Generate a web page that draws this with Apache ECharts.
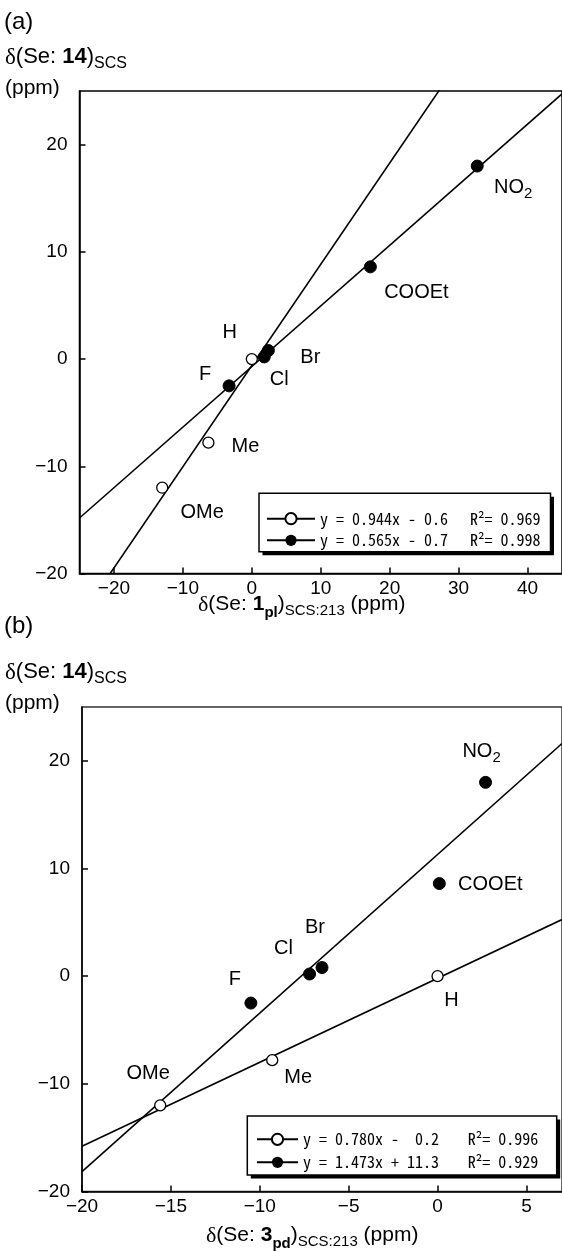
<!DOCTYPE html>
<html><head><meta charset="utf-8">
<script src="https://cdn.jsdelivr.net/npm/echarts@6/dist/echarts.min.js"></script>
<style>html,body{margin:0;padding:0;background:#fff}#c{width:562px;height:1252px}</style>
</head><body><div id="c"></div>
<script>
// ---- data ----
const namesOpen = ['H', 'Me', 'OMe'];
const namesFilled = ['F', 'Cl', 'Br', 'COOEt', 'NO2'];
const yOpen = [0.0, -7.8, -12.0];          // δ(Se: 14)SCS
const yFilled = [-2.5, 0.2, 0.8, 8.6, 18.0];
const xOpenA = [0.0, -6.3, -13.0];         // δ(Se: 1pl)SCS:213
const xFilledA = [-3.3, 1.8, 2.4, 17.2, 32.7];
const xOpenB = [0.0, -9.3, -15.6];         // δ(Se: 3pd)SCS:213
const xFilledB = [-10.5, -7.2, -6.5, 0.1, 2.7];
const slopeA = [0.944, 0.565], interceptA = [-0.6, -0.7], r2A = [0.969, 0.998];
const slopeB = [0.780, 1.473], interceptB = [-0.2, 11.3], r2B = [0.996, 0.929];
const xRangeA = [-25, 45], xRangeB = [-20, 7], yRange = [-20, 25];
const xTicksA = [-20, -10, 0, 10, 20, 30, 40];
const xTicksB = [-20, -15, -10, -5, 0, 5];
const yTicks = [-20, -10, 0, 10, 20];
// label offsets (px) – layout only
const offOpenA = [[-22, -27], [37, 4], [40, 25]];
const offFilledA = [[-24, -11], [15, 23], [42, 7], [46, 26], [36, 21]];
const offOpenB = [[14, 24], [26, 17], [-12, -32]];
const offFilledB = [[-16, -24], [-26, -26], [-7, -40], [51, 1], [-4, -31]];

const SANS = "'Liberation Sans', Arial, sans-serif";
const MONO = "'Noto Sans Mono CJK JP', 'Liberation Mono', monospace";

function fitLine(m, b, xr) { return [[xr[0], m * xr[0] + b], [xr[1], m * xr[1] + b]]; }
function eqText(m, b, w) {
  return 'y = ' + m.toFixed(3) + 'x ' + (b < 0 ? '-' : '+') + ' ' + Math.abs(b).toFixed(1).padStart(w);
}
function pts(xs, ys, names, offs) {
  return xs.map((x, i) => ({ value: [x, ys[i]], name: names[i], label: { offset: offs[i] } }));
}
const minus = v => String(v).replace('-', '\u2212');

const ptLabel = {
  show: true, position: 'inside', color: '#000',
  formatter: p => p.name === 'NO2' ? '{n|NO}{s|2}' : '{n|' + p.name + '}',
  rich: {
    n: { fontFamily: SANS, fontSize: 20, color: '#000', verticalAlign: 'top', lineHeight: 20 },
    s: { fontFamily: SANS, fontSize: 15, color: '#000', verticalAlign: 'top', lineHeight: 15, padding: [9, 0, 0, 0] }
  }
};
const openStyle = { color: '#fff', borderColor: '#000', borderWidth: 1.3, opacity: 1 };
const filledStyle = { color: '#000', borderColor: '#000', borderWidth: 1, opacity: 1 };

function axisX(grid, xr, ticks) {
  return {
    gridIndex: grid, type: 'value', min: xr[0], max: xr[1],
    axisLine: { onZero: false, lineStyle: { color: '#000', width: 1.5 } },
    axisTick: { inside: true, length: 6, customValues: ticks, lineStyle: { color: '#000', width: 1.5 } },
    axisLabel: { customValues: ticks, formatter: minus, color: '#000', fontFamily: SANS, fontSize: 19, margin: 6 },
    splitLine: { show: false }
  };
}
function axisY(grid) {
  return {
    gridIndex: grid, type: 'value', min: yRange[0], max: yRange[1],
    axisLine: { onZero: false, lineStyle: { color: '#000', width: 1.5 } },
    axisTick: { inside: true, length: 6, customValues: yTicks, lineStyle: { color: '#000', width: 1.5 } },
    axisLabel: { customValues: yTicks, formatter: minus, color: '#000', fontFamily: SANS, fontSize: 19, margin: 12 },
    splitLine: { show: false }
  };
}

function mkRich(fs) {
  const ss = Math.round(fs * 0.72);
  return {
    d: { fontFamily: "'Liberation Serif', serif", fontSize: fs + 1, fontWeight: 'normal', color: '#000', verticalAlign: 'top', lineHeight: fs + 1 },
    n: { fontFamily: SANS, fontSize: fs, fontWeight: 'normal', color: '#000', verticalAlign: 'top', lineHeight: fs + 1 },
    b: { fontFamily: SANS, fontSize: fs, fontWeight: 'bold', color: '#000', verticalAlign: 'top', lineHeight: fs + 1 },
    bs: { fontFamily: SANS, fontSize: ss, fontWeight: 'bold', color: '#000', verticalAlign: 'top', lineHeight: ss, padding: [Math.round(fs * 0.5), 0, 0, 0] },
    s: { fontFamily: SANS, fontSize: ss, fontWeight: 'normal', color: '#000', verticalAlign: 'top', lineHeight: ss, padding: [Math.round(fs * 0.45), 0, 0, 0] }
  };
}
function ttl(text, left, top, size, rich) {
  return { text: text, left: left, top: top, padding: 0,
    textStyle: rich ? { fontWeight: 'normal', fontFamily: SANS, fontSize: size, color: '#000', rich: mkRich(size) }
                    : { fontFamily: SANS, fontSize: size, fontWeight: 'normal', color: '#000' } };
}

function legendFor(names, ms, bs, r2s, w, left, top, itemW, gap, eqW) {
  const map = {};
  names.forEach((n, i) => { map[n] = { e: eqText(ms[i], bs[i], w), r: 'R\u00b2= ' + r2s[i].toFixed(3) }; });
  return {
    data: names, orient: 'vertical', left: left, top: top, padding: 0, itemGap: gap,
    itemWidth: itemW, itemHeight: 14, selectedMode: false, z: 10,
    formatter: n => '{e|' + map[n].e + '}{r|' + map[n].r + '}',
    textStyle: {
      rich: {
        e: { fontFamily: MONO, fontSize: 16, color: '#000', width: eqW, lineHeight: 14 },
        r: { fontFamily: MONO, fontSize: 16, color: '#000', lineHeight: 14 }
      }
    }
  };
}
function legendBox(x, y, w, h) {
  return [
    { type: 'rect', z: 5, silent: true, shape: { x: x + 3.5, y: y + 3.5, width: w, height: h }, style: { fill: '#000' } },
    { type: 'rect', z: 6, silent: true, shape: { x: x, y: y, width: w, height: h }, style: { fill: '#fff', stroke: '#000', lineWidth: 1.5 } }
  ];
}

const wA = Math.max(...interceptA.map(b => Math.abs(b).toFixed(1).length));
const wB = Math.max(...interceptB.map(b => Math.abs(b).toFixed(1).length));

const option = {
  animation: false,
  backgroundColor: '#fff',
  title: [
    ttl('(a)', 4, 10, 24),
    ttl('{d|δ}{n|(Se: }{b|14}{n|)}{s|SCS}', 5, 46, 22, true),
    ttl('(ppm)', 5, 78, 21),
    ttl('{d|δ}{n|(Se: }{b|1}{bs|pl}{n|)}{s|SCS:213}{n| (ppm)}', 198, 594, 21, true),
    ttl('(b)', 4, 614, 24),
    ttl('{d|δ}{n|(Se: }{b|14}{n|)}{s|SCS}', 5, 661, 22, true),
    ttl('(ppm)', 5, 693, 21),
    ttl('{d|δ}{n|(Se: }{b|3}{bs|pd}{n|)}{s|SCS:213}{n| (ppm)}', 206, 1225, 21, true)
  ],
  graphic: [].concat(legendBox(259, 493.3, 291.5, 58.4), legendBox(247.3, 1116, 309.4, 59)),
  grid: [
    { left: 79.5, top: 91, width: 485, height: 482.5, show: true, borderColor: '#000', borderWidth: 1.5, backgroundColor: 'transparent' },
    { left: 82, top: 707, width: 486, height: 484.5, show: true, borderColor: '#333', borderWidth: 1.5, backgroundColor: 'transparent' }
  ],
  xAxis: [axisX(0, xRangeA, xTicksA), axisX(1, xRangeB, xTicksB)],
  yAxis: [axisY(0), axisY(1)],
  legend: [
    legendFor(['aOpen', 'aFilled'], slopeA, interceptA, r2A, wA, 266, 510.7, 48, 5.6, 150),
    legendFor(['bOpen', 'bFilled'], slopeB, interceptB, r2B, wB, 256, 1131.3, 41, 7, 164.7)
  ],
  series: [
    { name: 'aOpen', type: 'line', xAxisIndex: 0, yAxisIndex: 0, data: fitLine(slopeA[0], interceptA[0], xRangeA), symbol: 'emptyCircle', showSymbol: false, itemStyle: { color: '#000' }, lineStyle: { color: '#000', width: 1.6 }, z: 2, silent: true },
    { name: 'aFilled', type: 'line', xAxisIndex: 0, yAxisIndex: 0, data: fitLine(slopeA[1], interceptA[1], xRangeA), symbol: 'circle', showSymbol: false, itemStyle: { color: '#000' }, lineStyle: { color: '#000', width: 1.6 }, z: 2, silent: true },
    { name: 'aOpenPts', type: 'scatter', xAxisIndex: 0, yAxisIndex: 0, data: pts(xOpenA, yOpen, namesOpen, offOpenA), symbol: 'circle', symbolSize: 11, itemStyle: openStyle, label: ptLabel, z: 3 },
    { name: 'aFilledPts', type: 'scatter', xAxisIndex: 0, yAxisIndex: 0, data: pts(xFilledA, yFilled, namesFilled, offFilledA), symbol: 'circle', symbolSize: 12, itemStyle: filledStyle, label: ptLabel, z: 3 },
    { name: 'bOpen', type: 'line', xAxisIndex: 1, yAxisIndex: 1, data: fitLine(slopeB[0], interceptB[0], xRangeB), symbol: 'emptyCircle', showSymbol: false, itemStyle: { color: '#000' }, lineStyle: { color: '#000', width: 1.6 }, z: 2, silent: true },
    { name: 'bFilled', type: 'line', xAxisIndex: 1, yAxisIndex: 1, data: fitLine(slopeB[1], interceptB[1], xRangeB), symbol: 'circle', showSymbol: false, itemStyle: { color: '#000' }, lineStyle: { color: '#000', width: 1.6 }, z: 2, silent: true },
    { name: 'bOpenPts', type: 'scatter', xAxisIndex: 1, yAxisIndex: 1, data: pts(xOpenB, yOpen, namesOpen, offOpenB), symbol: 'circle', symbolSize: 11, itemStyle: openStyle, label: ptLabel, z: 3 },
    { name: 'bFilledPts', type: 'scatter', xAxisIndex: 1, yAxisIndex: 1, data: pts(xFilledB, yFilled, namesFilled, offFilledB), symbol: 'circle', symbolSize: 12, itemStyle: filledStyle, label: ptLabel, z: 3 }
  ]
};
const chart = echarts.init(document.getElementById('c'), null, { renderer: 'canvas' });
chart.setOption(option);
</script></body></html>
